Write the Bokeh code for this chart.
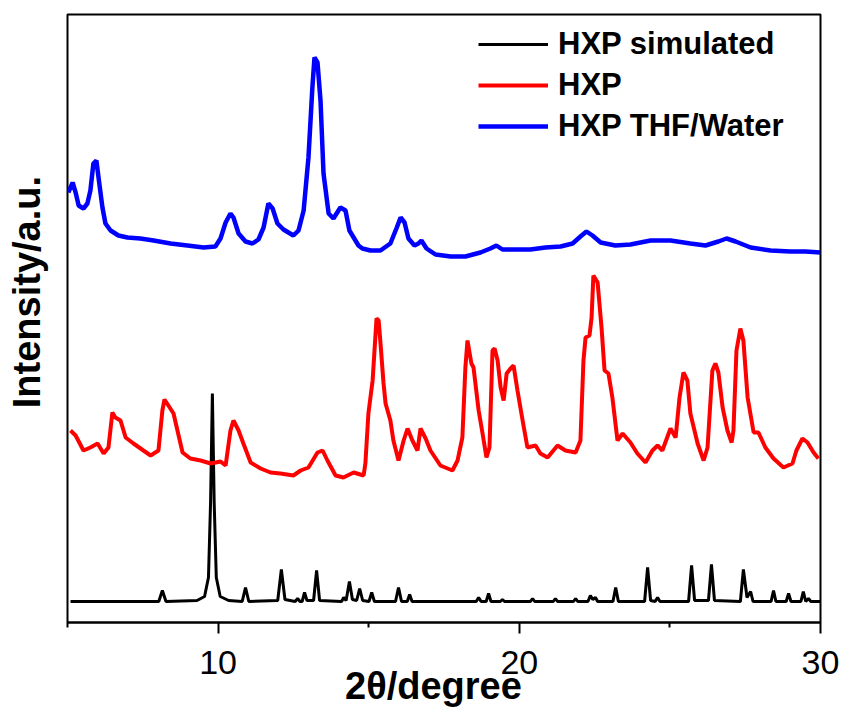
from bokeh.plotting import figure
from bokeh.models import Range1d, FixedTicker, Legend, LegendItem
from bokeh.embed import file_html
from bokeh.resources import INLINE

# ---- data: 2theta (degree) and intensity (a.u., stacked offsets included) ----
sim_x = [5.10,
         8.03, 8.15, 8.27,
         9.30, 9.55, 9.68, 9.75, 9.81, 9.87, 9.94, 10.07, 10.35,
         10.80, 10.91, 11.02,
         11.98, 12.10, 12.22,
         12.56, 12.64, 12.72,
         12.79, 12.87, 12.95,
         13.17, 13.27, 13.37,
         14.10, 14.17, 14.25,
         14.36, 14.46,
         14.60, 14.70, 14.80,
         15.01, 15.10, 15.19,
         15.89, 15.99, 16.09,
         16.28, 16.36, 16.44,
         18.57, 18.65, 18.73,
         18.90, 18.98, 19.06,
         19.37, 19.44, 19.51,
         20.37, 20.44, 20.51,
         21.13, 21.20, 21.27,
         21.80, 21.87, 21.94,
         22.28, 22.36, 22.44, 22.53, 22.60,
         23.11, 23.20, 23.29,
         24.16, 24.26, 24.36,
         24.51, 24.59, 24.67,
         25.62, 25.72, 25.82,
         26.28, 26.38, 26.48,
         27.34, 27.44, 27.56, 27.68, 27.76,
         28.36, 28.44, 28.52,
         28.86, 28.94, 29.02,
         29.35, 29.43, 29.51, 29.60, 29.68,
         30.00]
sim_y = [21,
         21, 32, 21,
         22, 26, 45, 120, 229, 120, 45, 26, 22,
         21, 35, 21,
         22, 53, 23,
         21, 24, 21,
         21, 30, 22,
         22, 52, 22,
         21, 25, 22,
         41, 23,
         22, 34, 22,
         21, 30, 21,
         21, 35, 21,
         21, 28, 21,
         21, 25, 21,
         21, 29, 21,
         21, 23, 21,
         21, 24, 21,
         21, 24, 21,
         21, 24, 21,
         21, 27, 23, 25, 21,
         21, 35, 21,
         21, 55, 22,
         21, 25, 21,
         21, 57, 22,
         22, 58, 22,
         21, 53, 25, 31, 21,
         21, 32, 21,
         21, 29, 21,
         21, 31, 21, 24, 21,
         21]

hxp_x = [5.10, 5.27, 5.53, 5.76, 6.00, 6.20, 6.36, 6.49, 6.59, 6.76, 6.93, 7.19, 7.52, 7.76,
         8.02, 8.15, 8.22, 8.35, 8.52, 8.82, 9.08, 9.42, 9.75, 10.08, 10.25, 10.41, 10.51,
         10.68, 10.84, 11.08, 11.41, 11.74, 12.07, 12.50, 12.74, 13.00, 13.30, 13.47, 13.63,
         13.90, 14.16, 14.50, 14.83, 14.89, 14.99, 15.13, 15.26, 15.33, 15.39, 15.49, 15.56,
         15.72, 15.82, 15.99, 16.16, 16.29, 16.45, 16.62, 16.72, 16.89, 17.05, 17.38, 17.78,
         17.95, 18.11, 18.21, 18.28, 18.41, 18.48, 18.65, 18.78, 18.91, 19.01, 19.11, 19.18,
         19.28, 19.38, 19.48, 19.58, 19.71, 19.81, 19.94, 20.11, 20.27, 20.54, 20.70, 20.94,
         21.27, 21.53, 21.87, 22.03, 22.13, 22.20, 22.33, 22.40, 22.46, 22.60, 22.73, 22.83,
         22.96, 23.09, 23.26, 23.43, 23.69, 23.92, 24.19, 24.42, 24.59, 24.75, 25.02, 25.19,
         25.32, 25.45, 25.58, 25.68, 25.92, 26.12, 26.25, 26.41, 26.51, 26.61, 26.75, 26.91,
         27.05, 27.11, 27.21, 27.34, 27.44, 27.58, 27.78, 27.94, 28.17, 28.44, 28.77, 29.07,
         29.20, 29.40, 29.57, 29.77, 29.93]
hxp_y = [192, 187, 172, 175, 179, 169, 175, 210, 205, 202, 185, 179, 172, 167,
         172, 212, 223, 217, 209, 170, 164, 162, 159, 161, 157, 192, 202,
         192, 179, 160, 154, 150, 149, 147, 152, 155, 170, 172, 162,
         147, 145, 150, 147, 159, 209, 242, 304, 302, 280, 240, 219,
         202, 182, 162, 182, 194, 182, 172, 194, 184, 172, 157, 152,
         162, 185, 255, 282, 259, 255, 212, 189, 165, 175, 272, 274,
         262, 235, 222, 249, 254, 257, 232, 202, 175, 177, 169, 165,
         177, 172, 170, 182, 262, 285, 287, 305, 347, 340, 295, 252,
         249, 225, 182, 189, 180, 169, 160, 172, 177, 172, 194, 185,
         225, 250, 242, 209, 179, 162, 175, 252, 259, 250, 215, 192,
         180, 192, 272, 294, 282, 225, 190, 190, 175, 164, 155, 159,
         172, 184, 180, 170, 164]

thf_x = [5.03, 5.17, 5.27, 5.37, 5.53, 5.66, 5.76, 5.86, 5.96, 6.03, 6.16, 6.26, 6.43, 6.69,
         6.99, 7.42, 7.86, 8.42, 8.98, 9.52, 9.91, 10.08, 10.25, 10.41, 10.51, 10.68, 10.91,
         11.14, 11.34, 11.51, 11.67, 11.81, 11.97, 12.17, 12.50, 12.67, 12.84, 13.00, 13.13,
         13.20, 13.30, 13.40, 13.50, 13.67, 13.83, 14.06, 14.23, 14.36, 14.56, 14.66, 14.79,
         15.06, 15.39, 15.72, 15.92, 16.06, 16.19, 16.32, 16.52, 16.65, 16.75, 16.92, 17.22,
         17.72, 18.21, 18.71, 19.04, 19.24, 19.44, 19.87, 20.37, 20.87, 21.37, 21.77, 22.03,
         22.23, 22.43, 22.70, 23.19, 23.69, 24.36, 25.02, 25.68, 26.18, 26.61, 26.88, 27.18,
         27.68, 28.34, 29.00, 29.50, 30.00]
thf_y = [430, 440, 430, 417, 414, 419, 432, 459, 462, 445, 415, 399, 392, 387,
         385, 384, 382, 379, 377, 375, 376, 384, 400, 409, 405, 389, 381,
         379, 383, 395, 419, 414, 399, 393, 387, 392, 412, 465, 535,
         565, 560, 522, 449, 409, 404, 415, 412, 392, 382, 377, 374,
         372, 372, 379, 394, 405, 400, 384, 377, 379, 382, 374, 368,
         366, 366, 370, 374, 377, 373, 373, 373, 375, 376, 379, 386,
         391, 387, 380, 377, 378, 382, 382, 379, 377, 381, 384, 381,
         375, 372, 371, 371, 370]

series_names = ["HXP simulated", "HXP", "HXP THF/Water"]
series_colors = ["#000000", "#ff0000", "#0000ff"]
x_ticks = [10, 20, 30]
x_minor_ticks = [5, 15, 25]
x_title = "2θ/degree"
y_title = "Intensity/a.u."

FONT = "Liberation Sans"
NBSP = "\u00a0"

p = figure(width=843, height=717, output_backend="svg", toolbar_location=None,
           x_range=Range1d(5, 30), y_range=Range1d(0, 608),
           min_border_left=67, min_border_right=23, min_border_top=14, min_border_bottom=95)
p.background_fill_color = "white"
p.border_fill_color = "white"
p.grid.visible = False
p.outline_line_color = "black"
p.outline_line_width = 2

ax = p.xaxis[0]
ax.ticker = FixedTicker(ticks=x_ticks, minor_ticks=x_minor_ticks)
ax.axis_line_width = 2
ax.major_tick_line_width = 2
ax.minor_tick_line_width = 2
ax.major_tick_out = 11
ax.major_tick_in = 0
ax.minor_tick_out = 5
ax.minor_tick_in = 0
ax.major_label_text_font = FONT
ax.major_label_text_font_size = "34px"
ax.major_label_text_color = "black"
ax.major_label_standoff = 17
# trailing non-breaking spaces nudge the centred title slightly to the left
ax.axis_label = x_title + NBSP * 2
ax.axis_label_text_font = FONT
ax.axis_label_text_font_style = "bold"
ax.axis_label_text_font_size = "38px"
ax.axis_label_text_color = "black"
ax.axis_label_standoff = -12

ay = p.yaxis[0]
ay.ticker = FixedTicker(ticks=[], minor_ticks=[])
ay.axis_line_color = None
ay.major_tick_line_color = None
ay.minor_tick_line_color = None
ay.major_label_text_font_size = "0px"
# leading non-breaking spaces nudge the rotated title upwards
ay.axis_label = NBSP * 5 + y_title
ay.axis_label_text_font = FONT
ay.axis_label_text_font_style = "bold"
ay.axis_label_text_font_size = "38px"
ay.axis_label_text_color = "black"
ay.axis_label_standoff = 20

r_sim = p.line(sim_x, sim_y, line_color=series_colors[0], line_width=3)
r_hxp = p.line(hxp_x, hxp_y, line_color=series_colors[1], line_width=4)
r_thf = p.line(thf_x, thf_y, line_color=series_colors[2], line_width=4.5)

legend = Legend(items=[LegendItem(label=series_names[0], renderers=[r_sim]),
                       LegendItem(label=series_names[1], renderers=[r_hxp]),
                       LegendItem(label=series_names[2], renderers=[r_thf])],
                location=(411, 478))
legend.padding = 0
legend.margin = 0
legend.spacing = 5
legend.glyph_width = 70
legend.glyph_height = 30
legend.label_height = 30
legend.label_standoff = 10
legend.border_line_alpha = 0
legend.background_fill_alpha = 0
legend.label_text_font = FONT
legend.label_text_font_style = "bold"
legend.label_text_font_size = "31px"
legend.label_text_color = "black"
p.add_layout(legend, "center")

open("out.html", "w").write(file_html(p, INLINE))
